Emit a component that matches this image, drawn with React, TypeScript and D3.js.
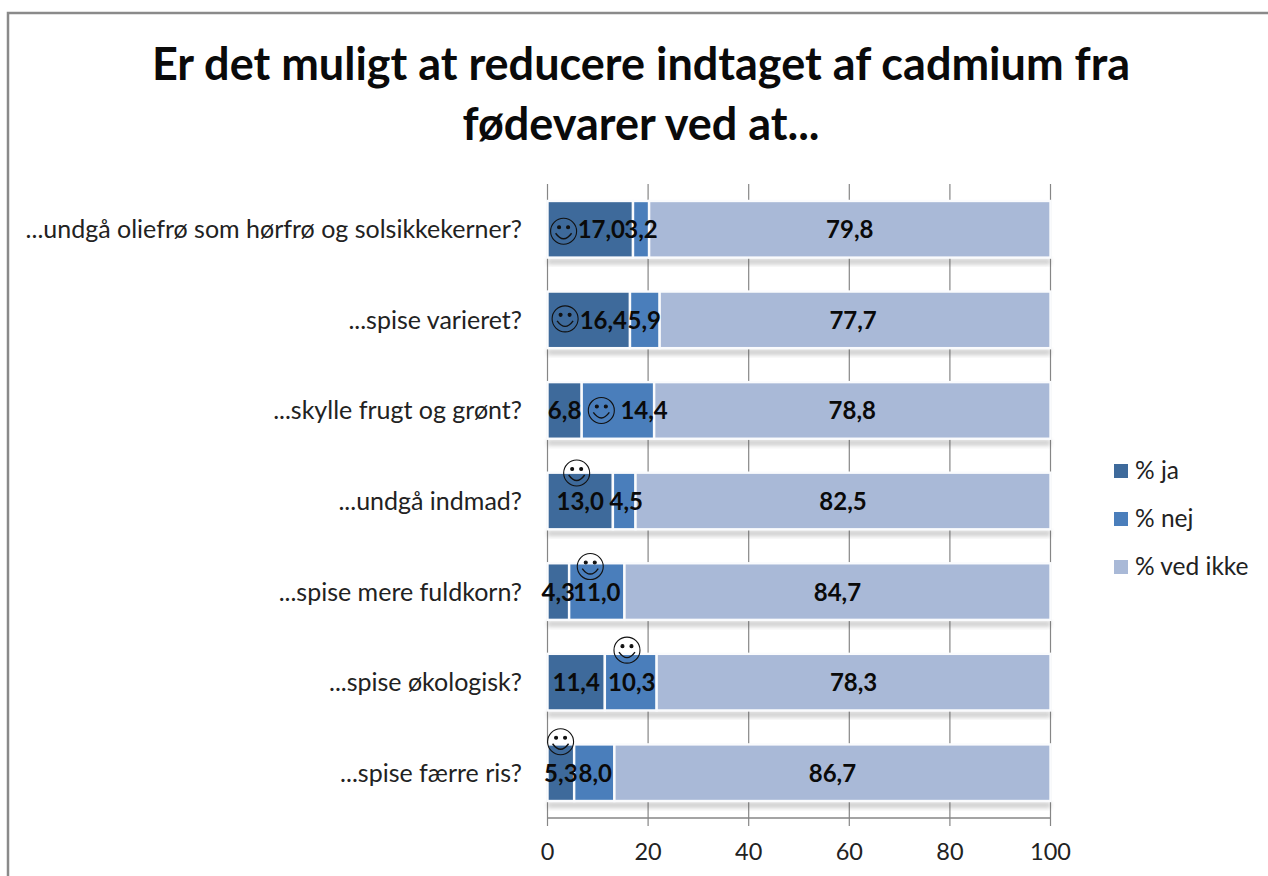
import React from "react";
import * as d3 from "d3";

const titleLines = ["Er det muligt at reducere indtaget af cadmium fra", "fødevarer ved at..."];
const categories = [
  "...undgå oliefrø som hørfrø og solsikkekerner?",
  "...spise varieret?",
  "...skylle frugt og grønt?",
  "...undgå indmad?",
  "...spise mere fuldkorn?",
  "...spise økologisk?",
  "...spise færre ris?",
];
const seriesNames = ["% ja", "% nej", "% ved ikke"];
const ja = [17.0, 16.4, 6.8, 13.0, 4.3, 11.4, 5.3];
const nej = [3.2, 5.9, 14.4, 4.5, 11.0, 10.3, 8.0];
const vedIkke = [79.8, 77.7, 78.8, 82.5, 84.7, 78.3, 86.7];
const ticks = [0, 20, 40, 60, 80, 100];
const colors = ["#3e6a9b", "#4a7ebb", "#a9b9d7"];
// smiley marks the correct answer: [value position, vertical shift from the band centre]
const smileyValue = [3.2, 3.5, 10.7, 5.8, 8.5, 15.8, 2.6];
const smileyShift = [2, -1, 0, -28, -25, -32, -31];
// manual nudges of the labels, in value units, as in the reference
const jaLabelShift = [2.2, 2.9, 0, 0, 0, 0, 0];
const nejLabelShift = [0, -0.1, 5.2, 0.4, 0, 0.2, 0.2];
const restLabelShift = [0, -0.4, 0, 0, 0, 0, 0];

const fmt = (v: number) => v.toFixed(1).replace(".", ",");
const FONT = "Lato, 'Open Sans', sans-serif";

export default function App() {
  const x = d3.scaleLinear().domain([0, 100]).range([547.5, 1050.5]);
  const y = d3.scaleBand<number>().domain(d3.range(7)).range([184, 818]).paddingInner(0.375).paddingOuter(0.1875);
  const stack = d3.stack<number>().keys([0, 1, 2] as any).value((_, k: any) => [ja, nej, vedIkke][k][_]);
  const layers = stack(d3.range(7));
  const shifts = [jaLabelShift, nejLabelShift, restLabelShift];
  const grid = "#868686";
  return (
    <svg width={1268} height={876} style={{ position: "fixed", left: 0, top: 0, background: "#fff" }} fontFamily={FONT}>
      <defs>
        <filter id="sh" x="-5%" y="-30%" width="110%" height="170%">
          <feGaussianBlur stdDeviation="2" />
        </filter>
      </defs>
      <path d="M8 876V13H1268" fill="none" stroke="#8a8a8a" strokeWidth={2.5} />
      {titleLines.map((t, i) => (
        <text key={i} x={641} y={80 + i * 60} textAnchor="middle" fontSize={45} fontWeight={700} fill="#0a0a0a">{t}</text>
      ))}

      {ticks.map((t) => (
        <line key={t} x1={x(t)} x2={x(t)} y1={184} y2={826} stroke={grid} strokeWidth={1.2} />
      ))}
      <line x1={547.5} x2={1051} y1={818} y2={818} stroke={grid} strokeWidth={1.5} />
      {ticks.map((t) => (
        <text key={t} x={x(t)} y={860} textAnchor="middle" fontSize={23.5} fill="#222">{t}</text>
      ))}

      {d3.range(7).map((i) => (
        <rect key={i} x={x(0)} y={y(i)! + y.bandwidth() + 1} width={x(100) - x(0)} height={6} fill="#555" opacity={0.28} filter="url(#sh)" />
      ))}
      {layers.map((l, s) =>
        l.map((d, i) => (
          <rect key={s + "-" + i} x={x(d[0])} y={y(i)} width={x(d[1]) - x(d[0])} height={y.bandwidth()} fill={colors[s]} stroke="#fafbfd" strokeWidth={2.4} />
        ))
      )}
      {categories.map((c, i) => (
        <text key={c} x={522} y={y(i)! + y.bandwidth() / 2 + 9} textAnchor="end" fontSize={25} fill="#222">{c}</text>
      ))}
      {layers.map((l, s) =>
        l.map((d, i) => (
          <text key={s + "-" + i} x={x((d[0] + d[1]) / 2 + shifts[s][i])} y={y(i)! + y.bandwidth() / 2 + 9} textAnchor="middle" fontSize={24} fontWeight={700} fill="#0a0a0a">
            {fmt(d[1] - d[0])}
          </text>
        ))
      )}
      {smileyValue.map((v, i) => {
        const cx = x(v);
        const cy = y(i)! + y.bandwidth() / 2 + smileyShift[i];
        return (
          <g key={i} fill="none" stroke="#111" strokeWidth={1.1}>
            <circle cx={cx} cy={cy} r={13} />
            <circle cx={cx - 4.5} cy={cy - 4} r={1.5} fill="#111" />
            <circle cx={cx + 4.5} cy={cy - 4} r={1.5} fill="#111" />
            <path d={`M${cx - 8} ${cy + 2}Q${cx} ${cy + 13} ${cx + 8} ${cy + 2}`} strokeWidth={1.4} />
          </g>
        );
      })}
      {seriesNames.map((n, i) => {
        const ly = 471 + i * 48;
        return (
          <g key={n}>
            <rect x={1114} y={ly - 7} width={14} height={14} fill={colors[i]} />
            <text x={1135} y={ly + 8} fontSize={24.5} fill="#222">{n}</text>
          </g>
        );
      })}
    </svg>
  );
}
